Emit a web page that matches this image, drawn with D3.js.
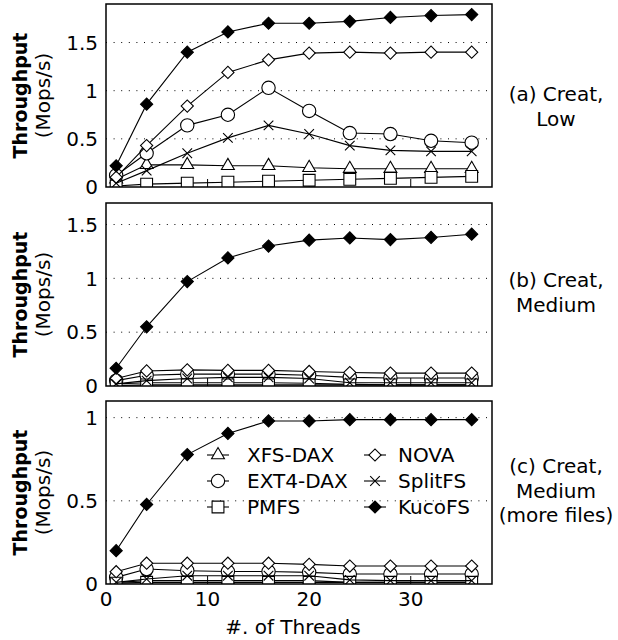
<!DOCTYPE html>
<html>
<head>
<meta charset="utf-8">
<script src="https://cdn.jsdelivr.net/npm/d3@7"></script>
<style>
  body { margin: 0; background: #fff; }
  svg { display: block; font-family: "DejaVu Sans", sans-serif; }
</style>
</head>
<body>
<div id="chart"></div>
<script>
// x values shared by every panel
var threads = [1, 4, 8, 12, 16, 20, 24, 28, 32, 36];
var xTicks = [0, 10, 20, 30];

// (a) Creat, Low
var xfsLow   = [0.08, 0.23, 0.23, 0.22, 0.22, 0.20, 0.19, 0.19, 0.19, 0.19];
var ext4Low  = [0.12, 0.35, 0.64, 0.75, 1.03, 0.79, 0.56, 0.55, 0.48, 0.46];
var pmfsLow  = [0.01, 0.03, 0.04, 0.05, 0.06, 0.07, 0.08, 0.09, 0.10, 0.11];
var novaLow  = [0.10, 0.43, 0.84, 1.19, 1.32, 1.39, 1.40, 1.39, 1.40, 1.40];
var splitLow = [0.04, 0.17, 0.35, 0.51, 0.64, 0.55, 0.43, 0.38, 0.37, 0.37];
var kucoLow  = [0.22, 0.86, 1.40, 1.61, 1.70, 1.70, 1.72, 1.76, 1.78, 1.79];

// (b) Creat, Medium
var xfsMed   = [0.02, 0.03, 0.03, 0.03, 0.03, 0.025, 0.015, 0.01, 0.01, 0.01];
var ext4Med  = [0.05, 0.10, 0.11, 0.11, 0.11, 0.10, 0.08, 0.075, 0.075, 0.075];
var pmfsMed  = [0.005, 0.01, 0.01, 0.01, 0.01, 0.01, 0.01, 0.01, 0.01, 0.01];
var novaMed  = [0.07, 0.14, 0.15, 0.145, 0.145, 0.135, 0.125, 0.12, 0.12, 0.12];
var splitMed = [0.02, 0.05, 0.07, 0.08, 0.08, 0.07, 0.03, 0.03, 0.03, 0.03];
var kucoMed  = [0.165, 0.55, 0.97, 1.19, 1.30, 1.355, 1.375, 1.36, 1.38, 1.41];

// (c) Creat, Medium (more files)
var xfsMore   = [0.01, 0.02, 0.02, 0.02, 0.02, 0.02, 0.01, 0.01, 0.01, 0.01];
var ext4More  = [0.04, 0.09, 0.08, 0.075, 0.075, 0.07, 0.06, 0.06, 0.06, 0.06];
var pmfsMore  = [0.005, 0.01, 0.01, 0.01, 0.01, 0.01, 0.01, 0.01, 0.01, 0.01];
var novaMore  = [0.074, 0.125, 0.125, 0.125, 0.125, 0.118, 0.108, 0.108, 0.108, 0.108];
var splitMore = [0.01, 0.03, 0.05, 0.05, 0.05, 0.05, 0.025, 0.02, 0.02, 0.02];
var kucoMore  = [0.20, 0.478, 0.778, 0.905, 0.98, 0.98, 0.988, 0.988, 0.988, 0.988];

var seriesNames = ["XFS-DAX", "EXT4-DAX", "PMFS", "NOVA", "SplitFS", "KucoFS"];
var markerTypes = ["triangle", "circle", "square", "diamond", "cross", "diamondFilled"];

var panels = [
    {label: ["(a) Creat,", "Low"], yMax: 1.9, yTicks: [0, 0.5, 1, 1.5],
        values: [xfsLow, ext4Low, pmfsLow, novaLow, splitLow, kucoLow]},
    {label: ["(b) Creat,", "Medium"], yMax: 1.7, yTicks: [0, 0.5, 1, 1.5],
        values: [xfsMed, ext4Med, pmfsMed, novaMed, splitMed, kucoMed]},
    {label: ["(c) Creat,", "Medium", "(more files)"], yMax: 1.1, yTicks: [0, 0.5, 1],
        values: [xfsMore, ext4More, pmfsMore, novaMore, splitMore, kucoMore]}
];

var width = 618, height = 640;
var left = 106, right = 492;
var panelTops = [4, 203, 401];
var panelHeight = 183;
var captionBaselines = [101, 287, 473];   // first caption line of each panel
var fontSize = 20;

var svg = d3.select("#chart").append("svg")
    .attr("width", width)
    .attr("height", height);

var x = d3.scaleLinear().domain([0, 38]).range([left, right]);

function markerPath(type) {
    if (type === "circle") return d3.symbol(d3.symbolCircle, 140)();
    if (type === "square") return d3.symbol(d3.symbolSquare, 140)();
    if (type === "triangle") return d3.symbol(d3.symbolTriangle, 72)();
    if (type === "cross") return d3.symbol(d3.symbolX, 62)();
    return d3.symbol(d3.symbolSquare, 74)();   // diamonds: rotated square
}

function drawMarker(g, type, cx, cy) {
    var m = g.append("path")
        .attr("d", markerPath(type))
        .attr("stroke", "#000")
        .attr("stroke-width", 1.1)
        .attr("fill", type === "diamondFilled" ? "#000" : (type === "cross" ? "none" : "#fff"));
    var rot = (type === "diamond" || type === "diamondFilled") ? " rotate(45)" : "";
    m.attr("transform", "translate(" + cx + "," + cy + ")" + rot);
}

panels.forEach(function (panel, pi) {
    var top = panelTops[pi];
    var bottom = top + panelHeight;
    var y = d3.scaleLinear().domain([0, panel.yMax]).range([bottom, top]);
    var g = svg.append("g");

    // clip to plot area
    var clipId = "clip" + pi;
    svg.append("clipPath").attr("id", clipId)
        .append("rect")
        .attr("x", left).attr("y", top)
        .attr("width", right - left).attr("height", bottom - top);

    // dotted grid
    g.selectAll(".grid").data(panel.yTicks.filter(function (d) { return d > 0; }))
        .enter().append("line")
        .attr("x1", left).attr("x2", right)
        .attr("y1", function (d) { return y(d); })
        .attr("y2", function (d) { return y(d); })
        .attr("stroke", "#000")
        .attr("stroke-width", 1)
        .attr("stroke-dasharray", "1,6.6");

    // y tick labels
    g.selectAll(".ytl").data(panel.yTicks)
        .enter().append("text")
        .attr("x", 98)
        .attr("y", function (d) { return y(d); })
        .attr("dy", "0.36em")
        .attr("text-anchor", "end")
        .attr("font-size", fontSize)
        .text(d3.format("~g"));

    // x ticks (inward)
    g.selectAll(".xt").data(xTicks.filter(function (d) { return d > 0; }))
        .enter().append("line")
        .attr("x1", function (d) { return x(d); })
        .attr("x2", function (d) { return x(d); })
        .attr("y1", bottom).attr("y2", bottom - 8)
        .attr("stroke", "#000")
        .attr("stroke-width", 1);

    // y axis title
    var midY = (top + bottom) / 2;
    g.append("text")
        .attr("transform", "translate(27," + midY + ") rotate(-90)")
        .attr("text-anchor", "middle")
        .attr("font-size", 19)
        .attr("font-weight", "bold")
        .text("Throughput");
    g.append("text")
        .attr("transform", "translate(50," + midY + ") rotate(-90)")
        .attr("text-anchor", "middle")
        .attr("font-size", fontSize)
        .text("(Mops/s)");

    // series
    var plot = g.append("g").attr("clip-path", "url(#" + clipId + ")");
    var line = d3.line()
        .x(function (d, i) { return x(threads[i]); })
        .y(function (d) { return y(d); });
    panel.values.forEach(function (vals, si) {
        plot.append("path")
            .attr("d", line(vals))
            .attr("fill", "none")
            .attr("stroke", "#000")
            .attr("stroke-width", 1.1);
        vals.forEach(function (v, i) {
            drawMarker(plot, markerTypes[si], x(threads[i]), y(v));
        });
    });

    // frame
    g.append("rect")
        .attr("x", left).attr("y", top)
        .attr("width", right - left).attr("height", bottom - top)
        .attr("fill", "none")
        .attr("stroke", "#000")
        .attr("stroke-width", 1.5);

    // panel caption on the right
    panel.label.forEach(function (t, li) {
        g.append("text")
            .attr("x", 556)
            .attr("y", captionBaselines[pi] + li * 24.5)
            .attr("text-anchor", "middle")
            .attr("font-size", fontSize)
            .text(t);
    });

    // x tick labels and title only under the last panel
    if (pi === panels.length - 1) {
        g.selectAll(".xtl").data(xTicks)
            .enter().append("text")
            .attr("x", function (d) { return x(d); })
            .attr("y", 606)
            .attr("text-anchor", "middle")
            .attr("font-size", fontSize)
            .text(d3.format("d"));
        g.append("text")
            .attr("x", (left + right) / 2 - 6)
            .attr("y", 634)
            .attr("text-anchor", "middle")
            .attr("font-size", fontSize)
            .text("#. of Threads");

        // legend, two columns of three
        var legend = g.append("g");
        var colMarkerX = [218, 375];
        var colTextX = [247, 398];
        var rowY = [455, 481, 507];
        seriesNames.forEach(function (name, si) {
            var col = Math.floor(si / 3), row = si % 3;
            var cx = colMarkerX[col], cy = rowY[row];
            legend.append("line")
                .attr("x1", cx - 11).attr("x2", cx + 11)
                .attr("y1", cy).attr("y2", cy)
                .attr("stroke", "#000")
                .attr("stroke-width", 1.1);
            drawMarker(legend, markerTypes[si], cx, cy);
            legend.append("text")
                .attr("x", colTextX[col])
                .attr("y", cy)
                .attr("dy", "0.36em")
                .attr("font-size", fontSize)
                .text(name);
        });
    }
});
</script>
</body>
</html>
